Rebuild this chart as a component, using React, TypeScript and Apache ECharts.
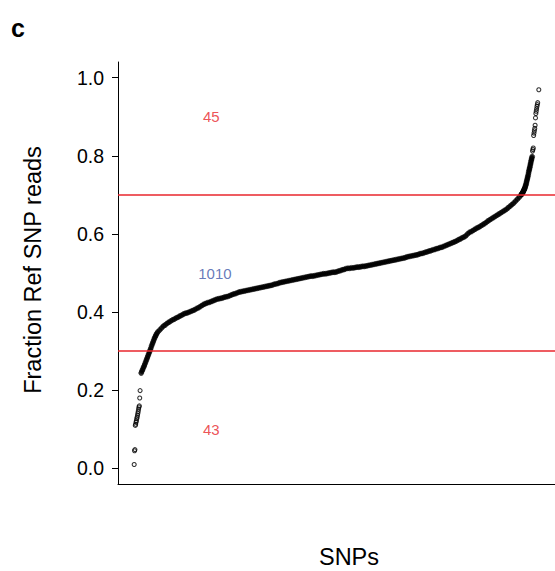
import React, { useEffect, useRef } from "react";
import * as echarts from "echarts";

// Sorted fraction of reference SNP reads.
// Lower tail: individual points [rank, fraction]
const lowerTail: [number, number][] = [
  [1, 0.010], [2, 0.045], [3, 0.048], [4, 0.110], [5, 0.113], [6, 0.118],
  [7, 0.122], [8, 0.127], [9, 0.131], [10, 0.136], [11, 0.141], [12, 0.146],
  [13, 0.152], [14, 0.157], [15, 0.160], [16, 0.180], [17, 0.199],
];
// Steep rise near 0.3
const lowerRise: [number, number][] = [
  [20, 0.244], [22, 0.249], [24, 0.253], [26, 0.258], [28, 0.262], [30, 0.267],
  [32, 0.272], [34, 0.277], [36, 0.282], [38, 0.287], [40, 0.292], [42, 0.297],
  [44, 0.302], [46, 0.307], [48, 0.313], [50, 0.318], [52, 0.323], [54, 0.328],
  [56, 0.333], [58, 0.337], [60, 0.341], [62, 0.345],
];
// Main body: ranks 65, 70, ..., 1050
const bodyStartRank = 65;
const bodyRankStep = 5;
const bodyFraction: number[] = [
  0.349, 0.354, 0.359, 0.364, 0.367, 0.371, 0.374, 0.377, 0.380, 0.382,
  0.385, 0.387, 0.390, 0.392, 0.395, 0.397, 0.398, 0.400, 0.402, 0.404,
  0.406, 0.409, 0.411, 0.414, 0.417, 0.420, 0.422, 0.424, 0.425, 0.427,
  0.429, 0.431, 0.433, 0.434, 0.435, 0.436, 0.438, 0.439, 0.440, 0.442,
  0.444, 0.446, 0.447, 0.449, 0.451, 0.452, 0.453, 0.454, 0.455, 0.456,
  0.457, 0.458, 0.459, 0.460, 0.461, 0.462, 0.463, 0.464, 0.465, 0.466,
  0.467, 0.468, 0.469, 0.471, 0.472, 0.473, 0.475, 0.476, 0.477, 0.478,
  0.479, 0.480, 0.481, 0.482, 0.483, 0.484, 0.485, 0.486, 0.487, 0.488,
  0.489, 0.490, 0.491, 0.492, 0.492, 0.493, 0.494, 0.495, 0.496, 0.497,
  0.498, 0.498, 0.499, 0.500, 0.501, 0.502, 0.502, 0.503, 0.505, 0.506,
  0.508, 0.509, 0.511, 0.512, 0.512, 0.513, 0.513, 0.514, 0.515, 0.515,
  0.516, 0.517, 0.517, 0.518, 0.519, 0.520, 0.521, 0.522, 0.523, 0.524,
  0.525, 0.526, 0.527, 0.528, 0.529, 0.530, 0.531, 0.532, 0.533, 0.534,
  0.535, 0.536, 0.537, 0.538, 0.539, 0.541, 0.542, 0.543, 0.544, 0.545,
  0.546, 0.547, 0.549, 0.550, 0.551, 0.553, 0.554, 0.556, 0.557, 0.559,
  0.560, 0.562, 0.563, 0.565, 0.566, 0.568, 0.570, 0.572, 0.574, 0.576,
  0.578, 0.580, 0.582, 0.585, 0.587, 0.590, 0.592, 0.595, 0.600, 0.604,
  0.606, 0.609, 0.612, 0.615, 0.617, 0.620, 0.623, 0.626, 0.629, 0.633,
  0.636, 0.639, 0.642, 0.645, 0.648, 0.651, 0.654, 0.657, 0.660, 0.663,
  0.667, 0.671, 0.675, 0.679, 0.684, 0.689, 0.694, 0.700,
];
// Steep rise near 0.7
const upperRise: [number, number][] = [
  [1051, 0.701], [1052, 0.702], [1053, 0.704], [1054, 0.705], [1055, 0.707],
  [1056, 0.709], [1057, 0.711], [1058, 0.713], [1059, 0.715], [1060, 0.717],
  [1061, 0.720], [1062, 0.723], [1063, 0.726], [1064, 0.730], [1065, 0.734],
  [1066, 0.738], [1067, 0.742], [1068, 0.746], [1069, 0.750], [1070, 0.755],
  [1071, 0.760], [1072, 0.764], [1073, 0.768], [1074, 0.772], [1075, 0.777],
  [1076, 0.781], [1077, 0.786], [1078, 0.790], [1079, 0.794], [1080, 0.798],
];
// Upper tail: individual points
const upperTail: [number, number][] = [
  [1081, 0.812], [1082, 0.816], [1083, 0.820], [1084, 0.852], [1085, 0.858],
  [1086, 0.864], [1087, 0.870], [1088, 0.878], [1089, 0.897], [1090, 0.908],
  [1091, 0.914], [1092, 0.920], [1093, 0.926], [1094, 0.931], [1095, 0.936],
  [1098, 0.969],
];

const thresholds = [0.3, 0.7];
const yTicks = [0, 0.2, 0.4, 0.6, 0.8, 1.0];
const countLabels = ["45", "1010", "43"];
const countRanks = [210, 220, 210];
const countFractions = [0.9, 0.5, 0.1];
const countColors = ["#e8262c", "#3f58a8", "#e8262c"];

const FONT = "'Liberation Sans', Arial, Helvetica, sans-serif";

export default function App() {
  const ref = useRef<HTMLDivElement>(null);
  useEffect(() => {
    if (!ref.current) return;
    const chart = echarts.init(ref.current, undefined, { renderer: "svg" });
    const body: [number, number][] = bodyFraction.map((v, i) => [
      bodyStartRank + i * bodyRankStep,
      v,
    ]);
    const densePoints = [...lowerRise, ...body, ...upperRise];
    const tailPoints = [...lowerTail, ...upperTail];
    chart.setOption({
      animation: false,
      backgroundColor: "#ffffff",
      textStyle: { fontFamily: FONT },
      grid: { left: 118, top: 62, width: 447, height: 422 },
      xAxis: {
        type: "value",
        min: -42.9,
        max: 1141.9,
        axisLine: { show: true, onZero: false, lineStyle: { color: "#000", width: 1 } },
        axisTick: { show: false },
        axisLabel: { show: false },
        splitLine: { show: false },
      },
      yAxis: {
        type: "value",
        min: -0.04,
        max: 1.04,
        axisLine: { show: true, onZero: false, lineStyle: { color: "#000", width: 1 } },
        axisTick: {
          show: true,
          length: 6,
          customValues: yTicks,
          lineStyle: { color: "#000", width: 1 },
        },
        axisLabel: {
          show: true,
          customValues: yTicks,
          margin: 14,
          fontSize: 19.5,
          color: "#000",
          fontFamily: FONT,
          formatter: (v: number) => v.toFixed(1),
        },
        splitLine: { show: false },
      },
      graphic: [
        {
          type: "text",
          x: 18,
          y: 28,
          style: {
            text: "c",
            font: `bold 25px ${FONT}`,
            fill: "#000",
            textAlign: "center",
            textVerticalAlign: "middle",
            align: "center",
            verticalAlign: "middle",
          },
        },
        {
          type: "text",
          x: 349,
          y: 557,
          style: {
            text: "SNPs",
            font: `23.5px ${FONT}`,
            fill: "#000",
            textAlign: "center",
            textVerticalAlign: "middle",
            align: "center",
            verticalAlign: "middle",
          },
        },
        {
          type: "text",
          x: 33,
          y: 270,
          rotation: Math.PI / 2,
          style: {
            text: "Fraction Ref SNP reads",
            font: `23.5px ${FONT}`,
            fill: "#000",
            textAlign: "center",
            textVerticalAlign: "middle",
            align: "center",
            verticalAlign: "middle",
          },
        },
      ],
      series: [
        {
          type: "scatter",
          data: densePoints,
          symbol: "circle",
          symbolSize: 5,
          itemStyle: { color: "#000", borderColor: "#000", borderWidth: 0.6 },
          emphasis: { disabled: true },
          markLine: {
            silent: true,
            symbol: ["none", "none"],
            label: { show: false },
            lineStyle: { color: "#e8262c", width: 1.5, type: "solid" },
            data: thresholds.map((t) => ({ yAxis: t })),
          },
          z: 3,
        },
        {
          type: "scatter",
          data: tailPoints,
          symbol: "circle",
          symbolSize: 4,
          itemStyle: { color: "rgba(0,0,0,0)", borderColor: "#000", borderWidth: 1.1 },
          emphasis: { disabled: true },
          z: 3,
        },
        {
          type: "scatter",
          symbolSize: 0,
          data: countLabels.map((t, i) => ({
            value: [countRanks[i], countFractions[i]],
            name: t,
            label: { color: countColors[i] },
          })),
          label: {
            show: true,
            position: "inside",
            formatter: (p: any) => p.name,
            fontSize: 15,
            fontFamily: FONT,
          },
          emphasis: { disabled: true },
          z: 4,
        },
      ],
    });
    return () => chart.dispose();
  }, []);
  return (
    <div
      ref={ref}
      style={{ position: "absolute", left: 0, top: 0, width: 555, height: 571 }}
    />
  );
}
